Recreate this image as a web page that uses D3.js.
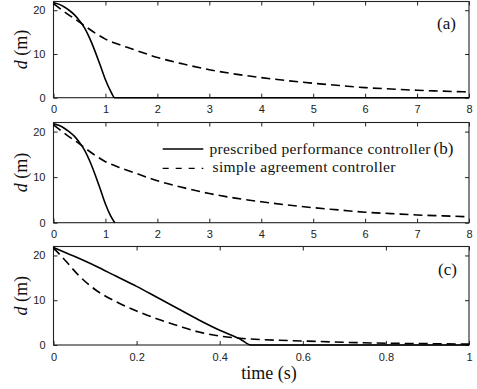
<!DOCTYPE html>
<html><head><meta charset="utf-8">
<script src="https://cdn.jsdelivr.net/npm/d3@7"></script>
<style>
html,body{margin:0;padding:0;background:#fff;}
svg{display:block;}
</style>
</head><body>
<svg id="chart" width="477" height="389"></svg>
<script>
// ---- data ----
const tSolidAB = [0, 0.1, 0.2, 0.3, 0.4, 0.5, 0.6, 0.7, 0.8, 0.9, 1.0, 1.1, 1.18, 8];
const dSolidA  = [21.7, 21.4, 20.8, 20.0, 19.0, 17.6, 15.9, 13.5, 10.6, 7.4, 4.1, 1.5, 0, 0];
const tSolidB  = [0, 0.1, 0.2, 0.3, 0.4, 0.5, 0.6, 0.7, 0.8, 0.9, 1.0, 1.1, 1.18];
const dSolidB  = [21.7, 21.4, 20.8, 20.0, 19.0, 17.6, 15.9, 13.5, 10.6, 7.4, 4.1, 1.5, 0];
const tDashAB  = [0, 0.25, 0.5, 0.75, 1.0, 1.25, 1.5, 2, 2.5, 3, 3.5, 4, 4.5, 5, 5.5, 6, 6.5, 7, 7.5, 8];
const dDashAB  = [21.5, 19.3, 17.3, 15.2, 13.4, 12.2, 11.2, 9.2, 7.7, 6.4, 5.4, 4.6, 3.9, 3.3, 2.8, 2.3, 2.0, 1.7, 1.5, 1.3];
const tSolidC  = [0, 0.05, 0.1, 0.15, 0.2, 0.25, 0.3, 0.35, 0.4, 0.45, 0.475, 1];
const dSolidC  = [21.8, 19.8, 17.7, 15.4, 13.1, 10.6, 8.1, 5.6, 3.3, 1.3, 0, 0];
const tDashC   = [0, 0.03, 0.06, 0.1, 0.15, 0.2, 0.25, 0.3, 0.35, 0.4, 0.45, 0.5, 0.6, 0.7, 0.8, 0.9, 1.0];
const dDashC   = [21.7, 18.7, 15.6, 12.4, 9.7, 7.6, 5.8, 4.3, 2.9, 2.0, 1.5, 1.2, 0.9, 0.6, 0.4, 0.3, 0.2];
const ticksXAB = [0, 1, 2, 3, 4, 5, 6, 7, 8];
const ticksXC  = [0, 0.2, 0.4, 0.6, 0.8, 1];
const ticksY   = [0, 10, 20];
const panelLabels = ["(a)", "(b)", "(c)"];
const legendLabels = ["prescribed performance controller", "simple agreement controller"];

const SERIF = "'Liberation Serif','Times New Roman',serif";
const SANS = "'Liberation Sans',Arial,Helvetica,sans-serif";
const svg = d3.select("#chart");
const L = 53.5, R = 469;
const panels = [
  {top: 1.5,   bot: 97.7,  xmax: 8, xt: ticksXAB, solid: [tSolidAB, dSolidA], dash: [tDashAB, dDashAB], lab: panelLabels[0], labY: 29, labX: 437},
  {top: 122.5, bot: 222.7, xmax: 8, xt: ticksXAB, solid: [tSolidB, dSolidB], dash: [tDashAB, dDashAB], lab: panelLabels[1], labY: 153.5, labX: 433.5},
  {top: 246.5, bot: 345,   xmax: 1, xt: ticksXC,  solid: [tSolidC, dSolidC], dash: [tDashC, dDashC], lab: panelLabels[2], labY: 275, labX: 438}
];
const TL = 4;

panels.forEach((p, i) => {
  const x = d3.scaleLinear().domain([0, p.xmax]).range([L, R]);
  const y = d3.scaleLinear().domain([0, 22]).range([p.bot, p.top]);
  const g = svg.append("g");
  const fmt = p.xmax === 1 ? (d => d === 0 || d === 1 ? d3.format("d")(d) : d3.format(".1f")(d)) : d3.format("d");

  const xb = g.append("g").attr("transform", `translate(0,${p.bot})`)
    .call(d3.axisBottom(x).tickValues(p.xt).tickFormat(fmt).tickSize(-TL).tickPadding(TL + 4));
  const xt = g.append("g").attr("transform", `translate(0,${p.top})`)
    .call(d3.axisTop(x).tickValues(p.xt).tickFormat("").tickSize(-TL));
  const yl = g.append("g").attr("transform", `translate(${L},0)`)
    .call(d3.axisLeft(y).tickValues(ticksY).tickFormat(d3.format("d")).tickSize(-TL).tickPadding(TL + 4));
  const yr = g.append("g").attr("transform", `translate(${R},0)`)
    .call(d3.axisRight(y).tickValues(ticksY).tickFormat("").tickSize(-TL));
  [xb, xt, yl, yr].forEach(a => {
    a.attr("font-family", SANS).attr("font-size", 11);
    a.select(".domain").remove();
    a.selectAll(".tick line").attr("stroke", "#222").attr("stroke-width", 1);
    a.selectAll(".tick text").attr("fill", "#222");
  });
  g.append("rect").attr("x", L).attr("y", p.top).attr("width", R - L).attr("height", p.bot - p.top)
    .attr("fill", "none").attr("stroke", "#222").attr("stroke-width", 1.1);

  const line = d3.line().x(d => x(d[0])).y(d => y(d[1])).curve(d3.curveMonotoneX);
  const sData = p.solid[0].map((t, k) => [t, p.solid[1][k]]);
  const dData = p.dash[0].map((t, k) => [t, p.dash[1][k]]);
  g.append("path").datum(dData).attr("d", line).attr("fill", "none")
    .attr("stroke", "#000").attr("stroke-width", 1.6).attr("stroke-dasharray", "9,5");
  g.append("path").datum(sData).attr("d", line).attr("fill", "none")
    .attr("stroke", "#000").attr("stroke-width", 1.6);

  g.append("text").attr("x", p.labX).attr("y", p.labY)
    .attr("font-family", SERIF).attr("font-size", 17)
    .attr("fill", "#111").text(p.lab);

  const yc = (p.top + p.bot) / 2;
  const yt = g.append("text").attr("transform", `translate(27,${yc}) rotate(-90)`)
    .attr("text-anchor", "middle")
    .attr("font-family", SERIF).attr("font-size", 18).attr("fill", "#111");
  yt.append("tspan").attr("font-style", "italic").text("d");
  yt.append("tspan").text(" (m)");
});

svg.append("text").attr("x", 269).attr("y", 379).attr("text-anchor", "middle")
  .attr("font-family", SERIF).attr("font-size", 18)
  .attr("fill", "#111").text("time (s)");

const lg = svg.append("g");
lg.append("line").attr("x1", 162.7).attr("x2", 203.3).attr("y1", 149).attr("y2", 149)
  .attr("stroke", "#000").attr("stroke-width", 1.3);
lg.append("line").attr("x1", 162.7).attr("x2", 203.3).attr("y1", 168.3).attr("y2", 168.3)
  .attr("stroke", "#000").attr("stroke-width", 1.3).attr("stroke-dasharray", "6,7");
lg.append("text").attr("x", 209.5).attr("y", 153.5)
  .attr("font-family", SERIF).attr("font-size", 15.5)
  .attr("textLength", 221).attr("lengthAdjust", "spacing").attr("fill", "#111").text(legendLabels[0]);
lg.append("text").attr("x", 212.5).attr("y", 172)
  .attr("font-family", SERIF).attr("font-size", 15.5)
  .attr("textLength", 183).attr("lengthAdjust", "spacing").attr("fill", "#111").text(legendLabels[1]);
</script>
</body></html>
